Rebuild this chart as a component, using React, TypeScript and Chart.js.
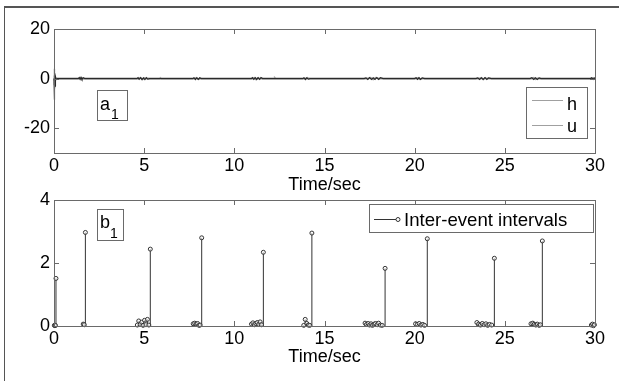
import React, { useEffect, useRef } from "react";
import { Chart, registerables } from "chart.js";

Chart.register(...registerables);

const FONT = '"Liberation Sans", Arial, Helvetica, sans-serif';

// ---------- data ----------
const xTicks = [0, 5, 10, 15, 20, 25, 30];
const topYTicks = [-20, 0, 20];
const bottomYTicks = [0, 2, 4];

const uTime = [0, 0.01, 0.02, 0.03, 0.045, 0.06, 0.08, 0.12, 0.2,
  1.35, 1.4, 1.45, 1.5, 1.55, 1.62, 1.7,
  4.6, 4.66, 4.72, 4.8, 4.88, 4.96, 5.04, 5.12, 5.2, 5.3,
  7.7, 7.76, 7.84, 7.92, 8.0, 8.08, 8.16,
  10.95, 11.0, 11.08, 11.16, 11.24, 11.32, 11.4, 11.48, 11.56,
  13.8, 13.86, 13.94, 14.02, 14.1, 14.2,
  17.2, 17.3, 17.4, 17.5, 17.6, 17.7, 17.8, 17.9, 18.0, 18.1, 18.25,
  20.0, 20.08, 20.16, 20.24, 20.32, 20.42, 20.55,
  23.4, 23.5, 23.6, 23.7, 23.8, 23.9, 24.0, 24.1, 24.25,
  26.4, 26.5, 26.6, 26.7, 26.8, 26.9, 27.0,
  29.75, 29.82, 29.9, 29.96, 30];
const uValue = [0, 4, -2, -8.5, 1.5, -3, 0.8, -0.4, 0,
  0, 0.4, -0.3, 0.45, -0.3, 0.35, 0,
  0, 0.35, -0.3, 0.4, -0.35, 0.3, -0.4, 0.35, -0.2, 0,
  0, 0.35, -0.35, 0.3, -0.3, 0.35, 0,
  0, 0.35, -0.3, 0.4, -0.35, 0.35, -0.3, 0.4, 0,
  0, 0.35, -0.35, 0.3, -0.2, 0,
  0, 0.3, -0.35, 0.4, -0.3, 0.35, -0.35, 0.4, -0.3, 0.35, 0,
  0, 0.35, -0.3, 0.35, -0.35, 0.3, 0,
  0, 0.3, -0.35, 0.35, -0.3, 0.4, -0.35, 0.3, 0,
  0, 0.35, -0.3, 0.35, -0.35, 0.3, 0,
  0, 0.35, -0.3, 0.2, 0];

const hTime = [0, 0.02, 0.05, 0.1, 1.4, 1.48, 1.56, 1.65, 4.7, 4.8, 4.9, 5.0, 5.1,
  5.85, 5.9, 5.95, 7.8, 7.9, 8.0, 8.1, 11.0, 11.1, 11.2, 11.3, 11.4, 12.2, 12.25, 12.3,
  14.0, 14.05, 14.12, 17.4, 17.55, 17.7, 17.85, 18.0, 20.1, 20.2, 20.3, 20.4,
  23.6, 23.7, 23.8, 23.9, 24.0, 26.5, 26.6, 26.7, 26.8, 29.85, 29.9, 30];
const hValue = [0, 1.2, -1.0, 0, 0, 0.3, -0.2, 0, 0, 0.3, -0.3, 0.2, 0,
  0, 0.25, 0, 0, 0.3, -0.2, 0, 0, 0.3, -0.3, 0.2, 0, 0, 0.25, 0,
  0, 0.3, 0, 0, 0.35, -0.3, 0.3, 0, 0, 0.3, -0.2, 0,
  0, 0.3, -0.3, 0.2, 0, 0, 0.3, -0.2, 0, 0, 0.2, 0];

const eventTime = [0.02, 0.05, 0.08, 0.11,
  1.62, 1.68, 1.74,
  4.62, 4.70, 4.78, 4.86, 4.94, 5.02, 5.10, 5.18, 5.26, 5.34,
  7.72, 7.80, 7.88, 7.96, 8.04, 8.10, 8.19,
  10.95, 11.03, 11.11, 11.19, 11.27, 11.35, 11.43, 11.50, 11.61,
  13.85, 13.93, 14.02, 14.10, 14.18, 14.30,
  17.25, 17.33, 17.42, 17.50, 17.58, 17.66, 17.75, 17.83, 17.92, 18.00, 18.10, 18.20, 18.36,
  20.05, 20.15, 20.25, 20.35, 20.45, 20.55, 20.70,
  23.45, 23.55, 23.65, 23.75, 23.85, 23.95, 24.05, 24.15, 24.27, 24.42,
  26.45, 26.55, 26.63, 26.72, 26.80, 26.90, 26.97, 27.08,
  29.80, 29.86, 29.92, 29.97];
const intervalValue = [0.02, 0.01, 0.02, 1.51,
  0.06, 0.04, 2.97,
  0.03, 0.16, 0.05, 0.12, 0.02, 0.18, 0.04, 0.21, 0.03, 2.44,
  0.07, 0.09, 0.06, 0.08, 0.02, 0.03, 2.80,
  0.06, 0.10, 0.04, 0.08, 0.11, 0.05, 0.13, 0.04, 2.34,
  0.02, 0.21, 0.08, 0.03, 0.02, 2.95,
  0.09, 0.05, 0.08, 0.03, 0.07, 0.02, 0.06, 0.08, 0.04, 0.09, 0.03, 0.02, 1.83,
  0.07, 0.05, 0.08, 0.03, 0.05, 0.02, 2.77,
  0.11, 0.06, 0.03, 0.08, 0.04, 0.07, 0.02, 0.05, 0.03, 2.15,
  0.07, 0.09, 0.05, 0.03, 0.06, 0.02, 0.04, 2.70,
  0.03, 0.06, 0.01, 0.04];

// ---------- styles ----------
const H_COLOR = "#a0a0a0";
const U_COLOR = "#2a2a2a";
const STEM_COLOR = "#333333";
const BOX_COLOR = "#6a6a6a";

const tickFont = { family: FONT, size: 18, lineHeight: 1.2 };

function fixedTicks(values: number[]) {
  return (s: any) => {
    s.ticks = values.map((v) => ({ value: v }));
  };
}

function frameAndTicks(chart: any) {
  const { ctx, chartArea: a, scales } = chart;
  ctx.save();
  ctx.strokeStyle = BOX_COLOR;
  ctx.lineWidth = 1;
  ctx.beginPath();
  scales.x.ticks.forEach((t: any) => {
    const px = Math.round(scales.x.getPixelForValue(t.value)) + 0.5;
    ctx.moveTo(px, a.bottom);
    ctx.lineTo(px, a.bottom - 5);
    ctx.moveTo(px, a.top);
    ctx.lineTo(px, a.top + 5);
  });
  scales.y.ticks.forEach((t: any) => {
    const py = Math.round(scales.y.getPixelForValue(t.value)) + 0.5;
    ctx.moveTo(a.left, py);
    ctx.lineTo(a.left + 5, py);
    ctx.moveTo(a.right, py);
    ctx.lineTo(a.right - 5, py);
  });
  ctx.stroke();
  ctx.strokeRect(Math.round(a.left) + 0.5, Math.round(a.top) + 0.5, Math.round(a.right - a.left), Math.round(a.bottom - a.top));
  ctx.restore();
}

function subLabel(ctx: any, x: number, y: number, w: number, h: number, main: string, sub: string, mainDx: number, mainBase: number, subDx: number, subBase: number) {
  ctx.fillStyle = "#fff";
  ctx.fillRect(x, y, w, h);
  ctx.strokeStyle = BOX_COLOR;
  ctx.lineWidth = 1;
  ctx.strokeRect(x + 0.5, y + 0.5, w, h);
  ctx.fillStyle = "#000";
  ctx.textBaseline = "alphabetic";
  ctx.textAlign = "left";
  ctx.font = `18px ${FONT}`;
  ctx.fillText(main, x + mainDx, y + mainBase);
  ctx.font = `14px ${FONT}`;
  ctx.fillText(sub, x + subDx, y + subBase);
}

const topDecor = {
  id: "topDecor",
  afterDraw(chart: any) {
    frameAndTicks(chart);
    const { ctx, chartArea: a } = chart;
    ctx.save();
    subLabel(ctx, a.left + 43, a.top + 61, 30, 30, "a", "1", 3, 20, 14, 29);
    const lx = a.right - 69;
    const ly = a.top + 58;
    ctx.fillStyle = "#fff";
    ctx.fillRect(lx, ly, 61, 51);
    ctx.strokeStyle = BOX_COLOR;
    ctx.lineWidth = 1;
    ctx.strokeRect(lx + 0.5, ly + 0.5, 61, 51);
    const ds = chart.data.datasets;
    const entries = [ds[1], ds[0]];
    entries.forEach((d: any, i: number) => {
      const yLine = ly + 13 + i * 25;
      ctx.strokeStyle = H_COLOR;
      ctx.lineWidth = 1;
      ctx.beginPath();
      ctx.moveTo(lx + 6, yLine + 0.5);
      ctx.lineTo(lx + 37, yLine + 0.5);
      ctx.stroke();
      ctx.fillStyle = "#000";
      ctx.font = `18px ${FONT}`;
      ctx.textBaseline = "alphabetic";
      ctx.textAlign = "left";
      ctx.fillText(d.label, lx + 41, ly + 23 + i * 22);
    });
    ctx.restore();
  },
};

const bottomDecor = {
  id: "bottomDecor",
  afterDraw(chart: any) {
    frameAndTicks(chart);
    const { ctx, chartArea: a } = chart;
    ctx.save();
    subLabel(ctx, a.left + 43, a.top + 9, 26, 31, "b", "1", 3, 19, 13, 29);
    const lx = a.right - 226;
    const ly = a.top + 4;
    ctx.fillStyle = "#fff";
    ctx.fillRect(lx, ly, 224, 28);
    ctx.strokeStyle = BOX_COLOR;
    ctx.lineWidth = 1;
    ctx.strokeRect(lx + 0.5, ly + 0.5, 224, 28);
    ctx.strokeStyle = STEM_COLOR;
    ctx.beginPath();
    ctx.moveTo(lx + 5, ly + 15.5);
    ctx.lineTo(lx + 27, ly + 15.5);
    ctx.stroke();
    ctx.beginPath();
    ctx.arc(lx + 29, ly + 15.5, 2, 0, Math.PI * 2);
    ctx.fillStyle = "#fff";
    ctx.fill();
    ctx.stroke();
    ctx.fillStyle = "#000";
    ctx.font = `18.6px ${FONT}`;
    ctx.textBaseline = "alphabetic";
    ctx.textAlign = "left";
    ctx.fillText(chart.data.datasets[1].label, lx + 35, ly + 22);
    ctx.restore();
  },
};

function xScale(height: number, titlePad: number) {
  return {
    type: "linear" as const,
    min: 0,
    max: 30,
    afterBuildTicks: fixedTicks(xTicks),
    afterFit: (s: any) => {
      s.height = height;
      s.paddingLeft = 0;
      s.paddingRight = 0;
    },
    grid: { display: false, drawTicks: false },
    border: { display: false },
    ticks: { font: tickFont, color: "#000", padding: 2, maxRotation: 0, autoSkip: false },
    title: {
      display: true,
      text: "Time/sec",
      color: "#000",
      font: { family: FONT, size: 18, lineHeight: 1 },
      padding: { top: 0, bottom: titlePad },
    },
  };
}

function yScale(min: number, max: number, ticks: number[]) {
  return {
    type: "linear" as const,
    min,
    max,
    afterBuildTicks: fixedTicks(ticks),
    afterFit: (s: any) => {
      s.width = 54;
      s.paddingTop = 0;
      s.paddingBottom = 0;
    },
    grid: { display: false, drawTicks: false },
    border: { display: false },
    ticks: { font: tickFont, color: "#000", padding: 4 },
  };
}

export default function App() {
  const topRef = useRef<HTMLCanvasElement>(null);
  const botRef = useRef<HTMLCanvasElement>(null);

  useEffect(() => {
    document.body.style.margin = "0";
    const top = new Chart(topRef.current as HTMLCanvasElement, {
      type: "line",
      data: {
        datasets: [
          {
            label: "u",
            data: uTime.map((t, i) => ({ x: t, y: uValue[i] })),
            borderColor: U_COLOR,
            borderWidth: 1.2,
            pointRadius: 0,
            clip: false,
            order: 0,
          },
          {
            label: "h",
            data: hTime.map((t, i) => ({ x: t, y: hValue[i] })),
            borderColor: H_COLOR,
            borderWidth: 2,
            pointRadius: 0,
            clip: false,
            order: 1,
          },
        ],
      },
      options: {
        responsive: false,
        animation: false,
        events: [],
        layout: { padding: { top: 29, right: 24, left: 0, bottom: 0 } },
        plugins: { legend: { display: false }, tooltip: { enabled: false } },
        scales: { x: xScale(47, 5.6), y: yScale(-30, 20, topYTicks) },
      } as any,
      plugins: [topDecor],
    });

    const stemData: any[] = [];
    eventTime.forEach((t, i) => {
      stemData.push({ x: t, y: 0 });
      stemData.push({ x: t, y: intervalValue[i] });
      stemData.push({ x: t, y: null });
    });

    const bottom = new Chart(botRef.current as HTMLCanvasElement, {
      type: "line",
      data: {
        datasets: [
          {
            label: "stems",
            data: stemData,
            borderColor: STEM_COLOR,
            borderWidth: 1,
            pointRadius: 0,
            spanGaps: false,
            order: 1,
          },
          {
            label: "Inter-event intervals",
            data: eventTime.map((t, i) => ({ x: t, y: intervalValue[i] })),
            showLine: false,
            pointRadius: 2,
            pointBorderWidth: 1,
            pointBorderColor: STEM_COLOR,
            pointBackgroundColor: "rgba(255,255,255,0.6)",
            clip: false,
            order: 0,
          },
        ],
      },
      options: {
        responsive: false,
        animation: false,
        events: [],
        layout: { padding: { top: 20, right: 24, left: 0, bottom: 0 } },
        plugins: { legend: { display: false }, tooltip: { enabled: false } },
        scales: { x: xScale(55, 15), y: yScale(0, 4, bottomYTicks) },
      } as any,
      plugins: [bottomDecor],
    });

    return () => {
      top.destroy();
      bottom.destroy();
    };
  }, []);

  return (
    <div style={{ position: "fixed", left: 0, top: 0, width: 619, height: 381, background: "#fff", overflow: "hidden" }}>
      <div
        style={{
          position: "absolute",
          left: 4,
          top: 6,
          width: 800,
          height: 600,
          borderLeft: "1.5px solid #555",
          borderTop: "2px solid #555",
        }}
      />
      <canvas ref={topRef} width={619} height={200} style={{ position: "absolute", left: 0, top: 0, width: 619, height: 200 }} />
      <canvas ref={botRef} width={619} height={201} style={{ position: "absolute", left: 0, top: 180, width: 619, height: 201 }} />
    </div>
  );
}
